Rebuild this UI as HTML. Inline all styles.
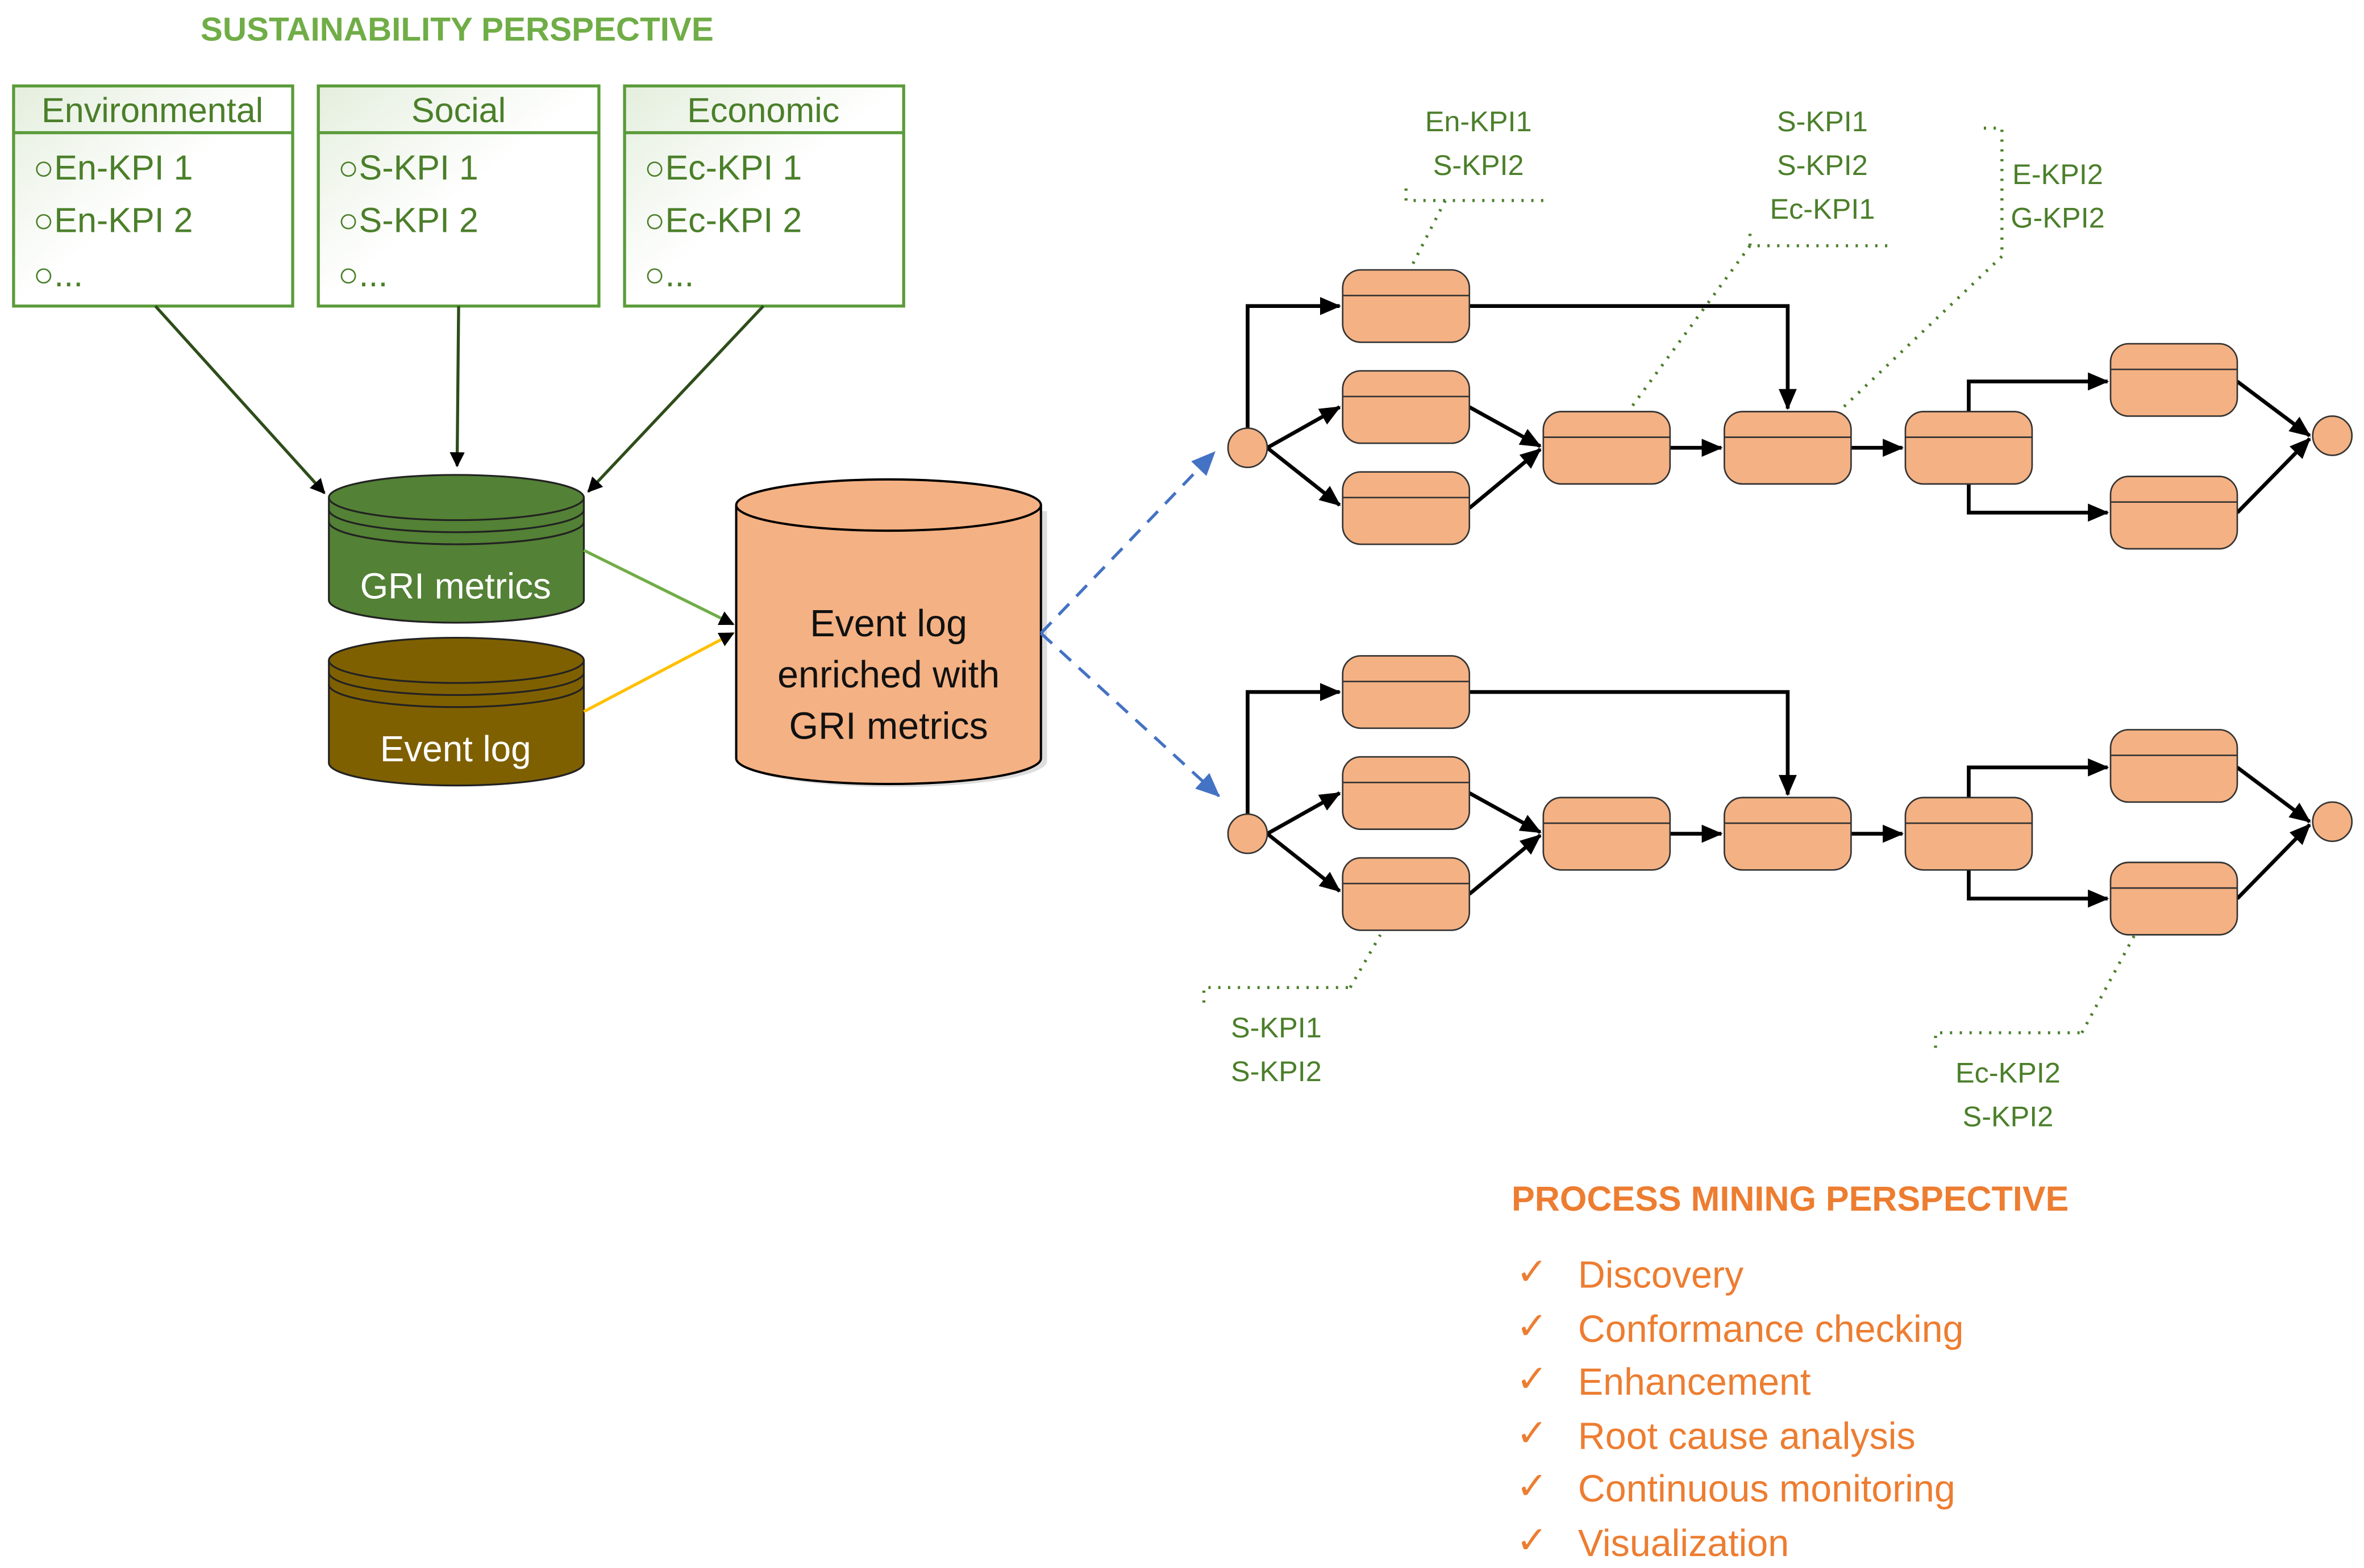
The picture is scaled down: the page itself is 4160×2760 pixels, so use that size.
<!DOCTYPE html>
<html><head><meta charset="utf-8"><style>html,body{margin:0;padding:0;background:#fff}svg{display:block}</style></head>
<body>
<svg width="4160" height="2760" viewBox="0 0 1567 1040" preserveAspectRatio="none" xmlns="http://www.w3.org/2000/svg" font-family="Liberation Sans, sans-serif">
<defs>
<marker id="ah" markerWidth="10" markerHeight="10" refX="9" refY="5" orient="auto" markerUnits="userSpaceOnUse"><path d="M0,0 L10,5 L0,10 z" fill="#000"/></marker>
<marker id="ahs" markerWidth="14" markerHeight="12" refX="13" refY="6" orient="auto" markerUnits="userSpaceOnUse"><path d="M0,0 L14,6 L0,12 z" fill="#000"/></marker>
<marker id="ahb" markerWidth="16" markerHeight="14" refX="15" refY="7" orient="auto" markerUnits="userSpaceOnUse"><path d="M0,0 L16,7 L0,14 z" fill="#4472c4"/></marker>
<linearGradient id="bg" x1="0" y1="0" x2="1" y2="1"><stop offset="0" stop-color="#e4eedd"/><stop offset="0.5" stop-color="#fff"/></linearGradient>
</defs>
<text x="303" y="27" text-anchor="middle" font-size="22" font-weight="bold" fill="#70ad47">SUSTAINABILITY PERSPECTIVE</text>
<g font-size="23" fill="#4b7f2a" stroke="none">
<g><rect x="9" y="57" width="185" height="146" fill="url(#bg)" stroke="#5b9b3a" stroke-width="2"/><line x1="9" y1="88" x2="194" y2="88" stroke="#5b9b3a" stroke-width="2"/>
<text x="101" y="81" text-anchor="middle">Environmental</text><text x="22" y="119">○En-KPI 1</text><text x="22" y="154">○En-KPI 2</text><text x="22" y="190">○...</text></g>
<g><rect x="211" y="57" width="186" height="146" fill="url(#bg)" stroke="#5b9b3a" stroke-width="2"/><line x1="211" y1="88" x2="397" y2="88" stroke="#5b9b3a" stroke-width="2"/>
<text x="304" y="81" text-anchor="middle">Social</text><text x="224" y="119">○S-KPI 1</text><text x="224" y="154">○S-KPI 2</text><text x="224" y="190">○...</text></g>
<g><rect x="414" y="57" width="185" height="146" fill="url(#bg)" stroke="#5b9b3a" stroke-width="2"/><line x1="414" y1="88" x2="599" y2="88" stroke="#5b9b3a" stroke-width="2"/>
<text x="506" y="81" text-anchor="middle">Economic</text><text x="427" y="119">○Ec-KPI 1</text><text x="427" y="154">○Ec-KPI 2</text><text x="427" y="190">○...</text></g>
</g>
<g stroke-width="2" fill="none">
<line x1="103" y1="203" x2="215" y2="327" stroke="#2e4d1a" marker-end="url(#ah)"/>
<line x1="304" y1="203" x2="303" y2="309" stroke="#2e4d1a" marker-end="url(#ah)"/>
<line x1="506" y1="203" x2="390" y2="326" stroke="#2e4d1a" marker-end="url(#ah)"/>
</g>
<!-- GRI cylinder -->
<g stroke="#222" stroke-width="1.2">
<path d="M218,330 L218,398 A84.5,15 0 0 0 387,398 L387,330" fill="#538135"/>
<ellipse cx="302.5" cy="330" rx="84.5" ry="15" fill="#538135"/>
<path d="M218,338 A84.5,15 0 0 0 387,338 M218,346 A84.5,15 0 0 0 387,346" fill="none"/>
<path d="M218,438 L218,506 A84.5,15 0 0 0 387,506 L387,438" fill="#7f6000"/>
<ellipse cx="302.5" cy="438" rx="84.5" ry="15" fill="#7f6000"/>
<path d="M218,446 A84.5,15 0 0 0 387,446 M218,454 A84.5,15 0 0 0 387,454" fill="none"/>
</g>
<text x="302" y="397" text-anchor="middle" font-size="24" fill="#fff">GRI metrics</text>
<text x="302" y="505" text-anchor="middle" font-size="24" fill="#fff">Event log</text>
<!-- big cylinder -->
<g stroke="#000" stroke-width="1.5">
<path d="M492,339 L492,505 A101,17 0 0 0 694,505 L694,339" fill="#bbb" opacity="0.5" stroke="none"/>
<path d="M488,335 L488,503 A101,17 0 0 0 690,503 L690,335" fill="#f4b183"/>
<ellipse cx="589" cy="335" rx="101" ry="17" fill="#f4b183"/>
</g>
<g font-size="25" fill="#111" text-anchor="middle"><text x="589" y="422">Event log</text><text x="589" y="456">enriched with</text><text x="589" y="490">GRI metrics</text></g>
<line x1="387" y1="365" x2="486" y2="414" stroke="#70ad47" stroke-width="2" marker-end="url(#ah)"/>
<line x1="387" y1="472" x2="486" y2="420" stroke="#ffc000" stroke-width="2" marker-end="url(#ah)"/>
<line x1="690" y1="420" x2="805" y2="300" stroke="#4472c4" stroke-width="2" stroke-dasharray="10,7" marker-end="url(#ahb)"/>
<line x1="690" y1="420" x2="808" y2="528" stroke="#4472c4" stroke-width="2" stroke-dasharray="10,7" marker-end="url(#ahb)"/>
<!-- process models -->
<g id="pm">
<g stroke="#000" stroke-width="2.5" fill="none">
<polyline points="827,284 827,203 888,203" marker-end="url(#ahs)"/>
<line x1="840" y1="297" x2="888" y2="270" marker-end="url(#ahs)"/>
<line x1="840" y1="297" x2="888" y2="335" marker-end="url(#ahs)"/>
<polyline points="974,203 1185,203 1185,271" marker-end="url(#ahs)"/>
<line x1="974" y1="270" x2="1021" y2="296" marker-end="url(#ahs)"/>
<line x1="974" y1="337" x2="1021" y2="298" marker-end="url(#ahs)"/>
<line x1="1107" y1="297" x2="1141" y2="297" marker-end="url(#ahs)"/>
<line x1="1227" y1="297" x2="1261" y2="297" marker-end="url(#ahs)"/>
<polyline points="1305,273 1305,253 1397,253" marker-end="url(#ahs)"/>
<polyline points="1305,321 1305,340 1397,340" marker-end="url(#ahs)"/>
<line x1="1483" y1="253" x2="1531" y2="289" marker-end="url(#ahs)"/>
<line x1="1483" y1="340" x2="1531" y2="291" marker-end="url(#ahs)"/>
</g>
<g fill="#f4b183" stroke="#333" stroke-width="1">
<circle cx="827" cy="297" r="13"/><circle cx="1546" cy="289" r="13"/>
<rect x="890" y="179" width="84" height="48" rx="12"/><line x1="890" y1="196" x2="974" y2="196"/>
<rect x="890" y="246" width="84" height="48" rx="12"/><line x1="890" y1="263" x2="974" y2="263"/>
<rect x="890" y="313" width="84" height="48" rx="12"/><line x1="890" y1="330" x2="974" y2="330"/>
<rect x="1023" y="273" width="84" height="48" rx="12"/><line x1="1023" y1="290" x2="1107" y2="290"/>
<rect x="1143" y="273" width="84" height="48" rx="12"/><line x1="1143" y1="290" x2="1227" y2="290"/>
<rect x="1263" y="273" width="84" height="48" rx="12"/><line x1="1263" y1="290" x2="1347" y2="290"/>
<rect x="1399" y="228" width="84" height="48" rx="12"/><line x1="1399" y1="245" x2="1483" y2="245"/>
<rect x="1399" y="316" width="84" height="48" rx="12"/><line x1="1399" y1="333" x2="1483" y2="333"/>
</g>
</g>
<use href="#pm" transform="translate(0,256)"/>
<!-- annotations -->
<g stroke="#4b7f2a" stroke-width="2" stroke-dasharray="1.5,5" fill="none">
<polyline points="932,125 932,133 1028,133"/><line x1="958" y1="133" x2="935" y2="178"/>
<polyline points="1160,155 1160,163 1256,163"/><line x1="1160" y1="163" x2="1080" y2="272"/>
<polyline points="1315,85 1327,85 1327,170"/><line x1="1327" y1="170" x2="1222" y2="270"/>
<polyline points="798,665 798,655 895,655"/><line x1="895" y1="655" x2="915" y2="620"/>
<polyline points="1283,695 1283,685 1380,685"/><line x1="1380" y1="685" x2="1415" y2="620"/>
</g>
<g font-size="19" fill="#4b7f2a" text-anchor="middle">
<text x="980" y="87">En-KPI1</text><text x="980" y="116">S-KPI2</text>
<text x="1208" y="87">S-KPI1</text><text x="1208" y="116">S-KPI2</text><text x="1208" y="145">Ec-KPI1</text>
<text x="1364" y="122">E-KPI2</text><text x="1364" y="151">G-KPI2</text>
<text x="846" y="688">S-KPI1</text><text x="846" y="717">S-KPI2</text>
<text x="1331" y="718">Ec-KPI2</text><text x="1331" y="747">S-KPI2</text>
</g>
<text x="1002" y="803" font-size="23" font-weight="bold" fill="#ed7d31">PROCESS MINING PERSPECTIVE</text>
<g font-size="25" fill="#ed7d31">
<text x="1005" y="852">✓</text><text x="1046" y="854">Discovery</text>
<text x="1005" y="888">✓</text><text x="1046" y="890">Conformance checking</text>
<text x="1005" y="923">✓</text><text x="1046" y="925">Enhancement</text>
<text x="1005" y="959">✓</text><text x="1046" y="961">Root cause analysis</text>
<text x="1005" y="994">✓</text><text x="1046" y="996">Continuous monitoring</text>
<text x="1005" y="1030">✓</text><text x="1046" y="1032">Visualization</text>
</g>
</svg>
</body></html>
